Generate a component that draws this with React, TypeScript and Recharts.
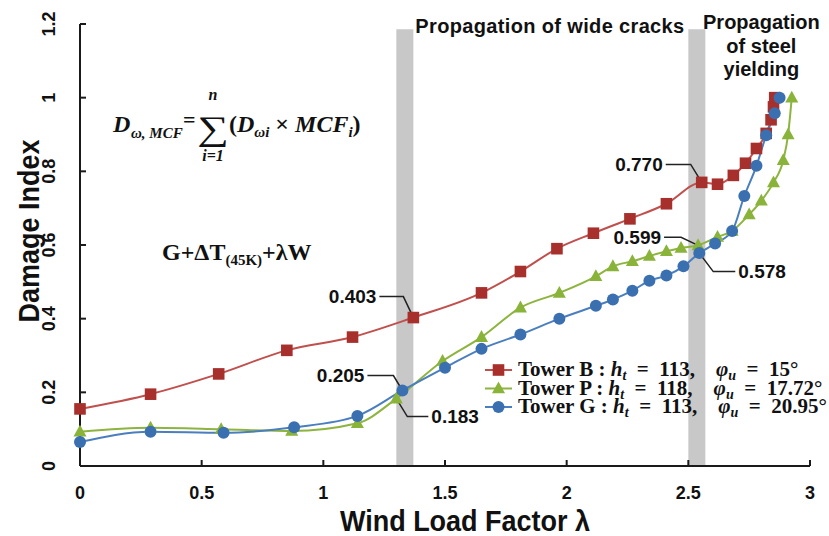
import React from "react";
import {
  LineChart,
  Line,
  XAxis,
  YAxis,
  ReferenceArea,
  ReferenceDot,
  Legend,
} from "recharts";

// lambda steps and damage index per tower
const lambdaB = [0, 0.29, 0.57, 0.85, 1.12, 1.37, 1.65, 1.81, 1.96, 2.11, 2.26, 2.41, 2.555, 2.62, 2.685, 2.735, 2.78, 2.82, 2.84, 2.85, 2.855];
const damageB = [0.155, 0.195, 0.25, 0.314, 0.35, 0.403, 0.47, 0.528, 0.59, 0.632, 0.671, 0.712, 0.77, 0.765, 0.789, 0.822, 0.862, 0.903, 0.94, 0.975, 1.0];

const lambdaP = [0, 0.29, 0.58, 0.87, 1.14, 1.3, 1.49, 1.65, 1.81, 1.97, 2.12, 2.19, 2.27, 2.34, 2.41, 2.47, 2.54, 2.62, 2.68, 2.75, 2.8, 2.85, 2.89, 2.91, 2.925];
const damageP = [0.093, 0.104, 0.1, 0.095, 0.116, 0.183, 0.285, 0.35, 0.43, 0.47, 0.515, 0.542, 0.556, 0.57, 0.583, 0.592, 0.599, 0.622, 0.638, 0.683, 0.72, 0.77, 0.83, 0.9, 1.0];

const lambdaG = [0, 0.29, 0.59, 0.88, 1.14, 1.325, 1.5, 1.65, 1.81, 1.97, 2.12, 2.19, 2.27, 2.34, 2.41, 2.48, 2.545, 2.61, 2.68, 2.73, 2.78, 2.82, 2.855, 2.875];
const damageG = [0.065, 0.093, 0.09, 0.105, 0.136, 0.205, 0.267, 0.318, 0.357, 0.4, 0.435, 0.452, 0.476, 0.503, 0.517, 0.542, 0.578, 0.604, 0.638, 0.733, 0.815, 0.898, 0.958, 1.0];

const seriesNames = ["Tower B", "Tower P", "Tower G"];
const towerHeights = ["113", "118", "113"];
const towerAngles = ["15°", "17.72°", "20.95°"];

const xTicks = [0, 0.5, 1, 1.5, 2, 2.5, 3];
const yTicks = [0, 0.2, 0.4, 0.6, 0.8, 1, 1.2];

const bandCracks = [1.3, 1.37];
const bandSteel = [2.5, 2.57];
const bandTop = 1.186;

// called-out values: lambda, damage
const calloutLambda = [1.37, 1.325, 1.3, 2.555, 2.54, 2.545];
const calloutDamage = [0.403, 0.205, 0.183, 0.77, 0.599, 0.578];
const calloutText = ["0.403", "0.205", "0.183", "0.770", "0.599", "0.578"];

// leader geometry (pixels, relative to the point)
const calloutLayout = [
  { ex: -10, ey: -21, run: -24 },
  { ex: -9, ey: -15, run: -26 },
  { ex: 11, ey: 18, run: 21 },
  { ex: -11, ey: -18, run: -25 },
  { ex: -17, ey: -8, run: -17 },
  { ex: 14, ey: 18.5, run: 22 },
];

const lineColors = ["#c0504d", "#8db43e", "#4a7ebf"];
const markerColors = ["#a8302c", "#8ab33a", "#3a6fb0"];

const SANS = "'Liberation Sans', Arial, sans-serif";
const SERIF = "'Liberation Serif', 'DejaVu Serif', serif";
const INK = "#111";

const toPoints = (xs: number[], ys: number[]) => xs.map((x, i) => ({ x, y: ys[i] }));
const pointsB = toPoints(lambdaB, damageB);
const pointsP = toPoints(lambdaP, damageP);
const pointsG = toPoints(lambdaG, damageG);

function Marker({ kind, cx, cy }: { kind: number; cx: number; cy: number }) {
  const fill = markerColors[kind];
  if (kind === 0) return <rect x={cx - 5.8} y={cy - 5.8} width={11.6} height={11.6} fill={fill} />;
  if (kind === 1)
    return <path d={`M${cx},${cy - 7}L${cx + 6.5},${cy + 4.8}L${cx - 6.5},${cy + 4.8}Z`} fill={fill} />;
  return <circle cx={cx} cy={cy} r={6} fill={fill} />;
}

const dotFor = (kind: number) => (p: any) =>
  <Marker key={`m${kind}-${p.index}`} kind={kind} cx={p.cx} cy={p.cy} />;

function XTick({ x, y, payload }: any) {
  return (
    <g>
      <line x1={x} y1={y} x2={x} y2={y - 6} stroke="#1a1a1a" strokeWidth={2} />
      <text x={x} y={y + 33} textAnchor="middle" fontFamily={SANS} fontWeight="bold" fontSize={18} fill={INK}>
        {payload.value}
      </text>
    </g>
  );
}

function YTick({ x, y, payload }: any) {
  return (
    <g>
      <line x1={x} y1={y} x2={x + 6} y2={y} stroke="#1a1a1a" strokeWidth={2} />
      <text
        transform={`translate(${x - 25},${y}) rotate(-90)`}
        textAnchor="middle"
        fontFamily={SANS}
        fontWeight="bold"
        fontSize={18}
        fill={INK}
      >
        {payload.value}
      </text>
    </g>
  );
}

function Callout({ cx, cy, i }: { cx: number; cy: number; i: number }) {
  const l = calloutLayout[i];
  const ex = cx + l.ex;
  const ey = cy + l.ey;
  const tx = ex + l.run;
  return (
    <g>
      <polyline points={`${cx},${cy} ${ex},${ey} ${tx},${ey}`} fill="none" stroke="#222" strokeWidth={1.5} />
      <text
        x={tx + (l.run < 0 ? -3 : 3)}
        y={ey}
        dy="0.36em"
        textAnchor={l.run < 0 ? "end" : "start"}
        fontFamily={SANS}
        fontWeight="bold"
        fontSize={19}
        fill={INK}
      >
        {calloutText[i]}
      </text>
    </g>
  );
}

const crackLabel = ({ viewBox }: any) => (
  <text x={viewBox.x + viewBox.width + 2} y={viewBox.y + 4} fontFamily={SANS} fontWeight="bold" fontSize={20} letterSpacing={0.35} fill={INK}>
    Propagation of wide cracks
  </text>
);

const steelLabel = ({ viewBox }: any) => {
  const cx = viewBox.x + viewBox.width + 56;
  return (
    <text textAnchor="middle" fontFamily={SANS} fontWeight="bold" fontSize={20} fill={INK}>
      <tspan x={cx} y={viewBox.y}>Propagation</tspan>
      <tspan x={cx} y={viewBox.y + 24}>of steel</tspan>
      <tspan x={cx} y={viewBox.y + 47}>yielding</tspan>
    </text>
  );
};

const renderLegend = () => (
  <svg width={349} height={66} style={{ overflow: "visible" }}>
    {seriesNames.map((name, i) => {
      const y = 22 + i * 18.5;
      return (
        <g key={name}>
          <line x1={5} x2={32} y1={y - 6} y2={y - 6} stroke={lineColors[i]} strokeWidth={2} />
          <Marker kind={i} cx={18.5} cy={y - 6} />
          <text x={38} y={y} fontFamily={SERIF} fontWeight="bold" fontSize={21} fill={INK}>
            {name} : <tspan fontStyle="italic">h</tspan>
            <tspan fontStyle="italic" fontSize={14} dy={4}>t</tspan>
            <tspan dy={-4}>{`\u2002=\u2002${towerHeights[i]},\u2003`}</tspan>
            <tspan fontStyle="italic">φ</tspan>
            <tspan fontStyle="italic" fontSize={14} dy={4}>u</tspan>
            <tspan dy={-4}>{`\u2002=\u2002${towerAngles[i]}`}</tspan>
          </text>
        </g>
      );
    })}
  </svg>
);

function Formulas() {
  return (
    <svg width={829} height={536} style={{ position: "absolute", left: 0, top: 0, pointerEvents: "none" }}>
      <g fontFamily={SERIF} fontWeight="bold" fill={INK}>
        <text x={113} y={132} fontSize={24} fontStyle="italic">D</text>
        <text x={131} y={138} fontSize={15} fontStyle="italic">ω, MCF</text>
        <text x={183} y={127} fontSize={22}>=</text>
        <text transform="translate(197,140) scale(1.3,1)" fontSize={34} fontWeight="normal">∑</text>
        <text x={213} y={100} fontSize={16} fontStyle="italic" textAnchor="middle">n</text>
        <text x={213} y={161} fontSize={16} fontStyle="italic" textAnchor="middle">i=1</text>
        <text x={229} y={132} fontSize={24} fontStyle="italic">
          <tspan fontStyle="normal">(</tspan>D
          <tspan dy={5} fontSize={15}>ωi</tspan>
          <tspan dy={-5} fontStyle="normal"> × </tspan>MCF
          <tspan dy={5} fontSize={15}>i</tspan>
          <tspan dy={-5} fontStyle="normal">)</tspan>
        </text>
        <text x={162} y={260} fontSize={24}>
          G+ΔT<tspan dy={5} fontSize={15}>(45K)</tspan>
          <tspan dy={-5}>+λW</tspan>
        </text>
      </g>
    </svg>
  );
}

export default function App() {
  return (
    <div style={{ position: "relative", width: 829, height: 536, background: "#fff" }}>
      <style>{"body{margin:0}"}</style>
      <LineChart width={829} height={536} margin={{ top: 24, right: 19, left: 0, bottom: 0 }}>
        <XAxis
          type="number"
          dataKey="x"
          domain={[0, 3]}
          ticks={xTicks}
          height={70}
          tickSize={0}
          tickMargin={0}
          tickLine={false}
          axisLine={{ stroke: "#1a1a1a", strokeWidth: 2 }}
          tick={<XTick />}
          label={{
            content: ({ viewBox }: any) => (
              <text
                transform={`translate(${viewBox.x + viewBox.width / 2 + 20},${viewBox.y + 65}) scale(0.9,1)`}
                textAnchor="middle"
                fontFamily={SANS}
                fontWeight="bold"
                fontSize={30}
                fill={INK}
              >
                Wind Load Factor λ
              </text>
            ),
          }}
        />
        <YAxis
          type="number"
          domain={[0, 1.2]}
          ticks={yTicks}
          width={80}
          tickSize={0}
          tickMargin={0}
          tickLine={false}
          axisLine={{ stroke: "#1a1a1a", strokeWidth: 2 }}
          tick={<YTick />}
          label={{
            content: () => (
              <text
                transform="translate(39,231) rotate(-90) scale(0.9,1)"
                textAnchor="middle"
                fontFamily={SANS}
                fontWeight="bold"
                fontSize={30}
                fill={INK}
              >
                Damage Index
              </text>
            ),
          }}
        />
        <ReferenceArea x1={bandCracks[0]} x2={bandCracks[1]} y1={0} y2={bandTop} fill="#c8c8c8" fillOpacity={1} stroke="none" label={crackLabel} />
        <ReferenceArea x1={bandSteel[0]} x2={bandSteel[1]} y1={0} y2={bandTop} fill="#c8c8c8" fillOpacity={1} stroke="none" label={steelLabel} />
        <Line data={pointsB} dataKey="y" name={seriesNames[0]} type="monotone" stroke={lineColors[0]} strokeWidth={2} dot={dotFor(0)} activeDot={false} isAnimationActive={false} />
        <Line data={pointsP} dataKey="y" name={seriesNames[1]} type="monotone" stroke={lineColors[1]} strokeWidth={2} dot={dotFor(1)} activeDot={false} isAnimationActive={false} />
        <Line data={pointsG} dataKey="y" name={seriesNames[2]} type="monotone" stroke={lineColors[2]} strokeWidth={2} dot={dotFor(2)} activeDot={false} isAnimationActive={false} />
        {calloutText.map((t, i) => (
          <ReferenceDot
            key={t}
            x={calloutLambda[i]}
            y={calloutDamage[i]}
            r={1}
            shape={(p: any) => <Callout cx={p.cx} cy={p.cy} i={i} />}
          />
        ))}
        <Legend
          layout="horizontal"
          verticalAlign="middle"
          content={renderLegend}
          wrapperStyle={{ position: "absolute", left: 480, top: 354, width: 349 }}
        />
      </LineChart>
      <Formulas />
    </div>
  );
}
